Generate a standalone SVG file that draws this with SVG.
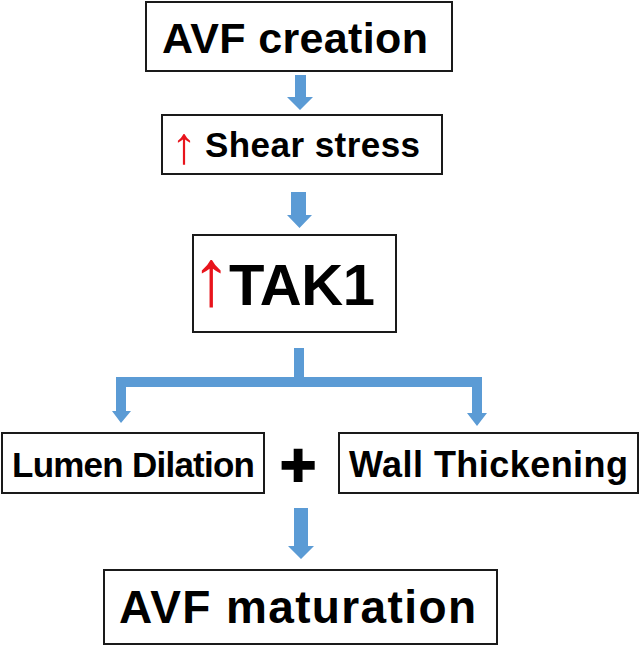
<svg xmlns="http://www.w3.org/2000/svg" width="640" height="647" viewBox="0 0 640 647">
<style>
.box{fill:#fff;stroke:#1a1a1a;stroke-width:2}
.t{font-family:"Liberation Sans",Arial,sans-serif;font-weight:bold;fill:#000}
.red{fill:#e8141c;font-weight:normal}
.arr{fill:#5b9bd5}
</style>
<rect width="640" height="647" fill="#fff"/>
<g id="connectors">
<polygon class="arr" points="295,75 306,75 306,97 313,97 300,110 287,97 295,97"/>
<polygon class="arr" points="291,192 306,192 306,215 312,215 299.5,228 287,215 291,215"/>
<path class="arr" d="M294,348 H304 V377 H482 V413 H487 L477,426 L467,413 H472 V387 H126 V411 H131 L121,423 L112,411 H116 V377 H294 Z"/>
<polygon class="arr" points="294,508 308,508 308,546 314,546 301,559 288,546 294,546"/>
</g>
<g id="avf-creation">
<rect class="box" x="146" y="2" width="306" height="69"/>
<text class="t" x="295" y="53" font-size="43" text-anchor="middle" textLength="266">AVF creation</text>
</g>
<g id="shear-stress">
<rect class="box" x="162" y="115" width="280" height="59"/>
<text class="t red" x="184" y="163" font-size="52" text-anchor="middle">↑</text>
<text class="t" x="205" y="157" font-size="35" textLength="215">Shear stress</text>
</g>
<g id="tak1">
<rect class="box" x="193" y="235" width="203" height="97"/>
<text class="t red" x="211" y="305" font-size="80" text-anchor="middle">↑</text>
<text class="t" x="229" y="305" font-size="58" textLength="146">TAK1</text>
</g>
<g id="lumen-dilation">
<rect class="box" x="2" y="433" width="262" height="60"/>
<text class="t" x="12" y="477" font-size="35" textLength="243">Lumen Dilation</text>
</g>
<g id="plus">
<text class="t" x="298" y="486" font-size="62" text-anchor="middle" stroke="#000" stroke-width="2">+</text>
</g>
<g id="wall-thickening">
<rect class="box" x="339" y="433" width="299" height="60"/>
<text class="t" x="349" y="477" font-size="36" textLength="279">Wall Thickening</text>
</g>
<g id="avf-maturation">
<rect class="box" x="104" y="570" width="393" height="74"/>
<text class="t" x="119" y="623" font-size="46" textLength="357">AVF maturation</text>
</g>
</svg>
